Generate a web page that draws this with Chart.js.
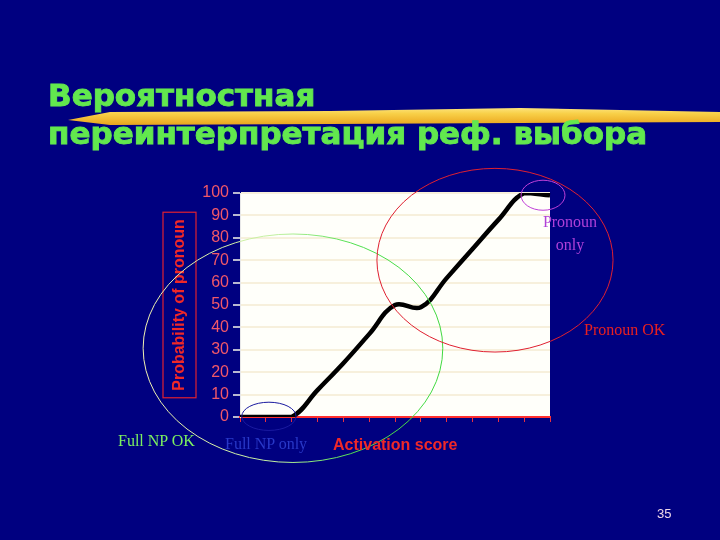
<!DOCTYPE html>
<html>
<head>
<meta charset="utf-8">
<script src="https://cdn.jsdelivr.net/npm/chart.js@4.4.1/dist/chart.umd.min.js"></script>
<style>
  html, body { margin: 0; padding: 0; background: #000080; }
  #slide { position: relative; width: 720px; height: 540px; overflow: hidden; background: #000080; }
  #chartBox { position: absolute; left: 0; top: 0; width: 720px; height: 540px; z-index: 1; }
  .txt { position: absolute; white-space: nowrap; z-index: 3; }
  .title { font-family: "DejaVu Sans", sans-serif; font-weight: bold; font-size: 31px; line-height: 31px; color: #62e84e;
    -webkit-text-stroke: 0.9px #62e84e; left: 48px; }
  .serif { font-family: "Liberation Serif", "Times New Roman", serif; font-size: 16px; line-height: 16px; }
  #stroke { position: absolute; left: 0; top: 104px; width: 720px; height: 24px; z-index: 2;
    background: linear-gradient(180deg, #fff0a0 0%, #f8d048 40%, #eeb028 75%, #e09a18 100%);
    clip-path: polygon(68px 16px, 110px 8px, 330px 7px, 520px 4px, 720px 8px, 720px 18px, 520px 19px, 330px 20px, 110px 21px); }
</style>
</head>
<body>
<div id="slide">
  <div id="stroke"></div>
  <div class="txt title" style="top:80px;">Вероятностная</div>
  <div class="txt title" style="top:118px;">переинтерпретация реф. выбора</div>

  <div id="chartBox"><canvas id="chart"></canvas></div>

  <div class="txt serif" style="left:570px; top:214px; transform:translateX(-50%); color:#b040d8;">Pronoun</div>
  <div class="txt serif" style="left:570px; top:237px; transform:translateX(-50%); color:#b040d8;">only</div>
  <div class="txt serif" style="left:584px; top:322px; color:#e82020;">Pronoun OK</div>
  <div class="txt serif" style="left:118px; top:433px; color:#7cf060;">Full NP OK</div>
  <div class="txt serif" style="left:225px; top:436px; color:#2838c8;">Full NP only</div>
  <div class="txt" style="left:333px; top:437px; font-family:'Liberation Sans', Arial, sans-serif; font-weight:bold; font-size:16px; line-height:16px; color:#f02828;">Activation score</div>
  <div class="txt" style="left:657px; top:507px; font-family:'Liberation Sans', Arial, sans-serif; font-size:13px; line-height:13px; color:#f0d8e8;">35</div>
</div>

<script>
// data
const activationSteps = ['1', '2', '3', '4', '5', '6', '7', '8', '9', '10', '11', '12', '13']
const pronounProbability = [0, 0, 0, 12, 24, 37, 50, 49, 62, 75, 88, 100, 99]
const probabilityTicks = [0, 10, 20, 30, 40, 50, 60, 70, 80, 90, 100]
const yAxisTitle = 'Probability of pronoun'

// hand-drawn circles on the slide, in data units (step index, probability)
const callouts = [
  { cx: 2.05, cy: 30.7, rx: 5.8, ry: 51, color: 'green' },
  { cx: 9.87, cy: 70, rx: 4.57, ry: 41, color: '#e02030' },
  { cx: 11.73, cy: 99, rx: 0.85, ry: 6.7, color: '#c040d8' },
  { cx: 1.12, cy: 0.3, rx: 1.05, ry: 6.3, color: '#1a1aa0' },
]

const slideDecor = {
  id: 'slideDecor',
  beforeDraw(chart) {
    const { ctx, chartArea } = chart
    ctx.save()
    ctx.fillStyle = '#fffffa'
    ctx.fillRect(chartArea.left, chartArea.top, chartArea.right - chartArea.left, chartArea.bottom - chartArea.top)
    ctx.restore()
  },
  afterDraw(chart) {
    const { ctx, chartArea } = chart
    const x = chart.scales.x
    const y = chart.scales.y

    // y axis title with its frame
    ctx.save()
    ctx.font = 'bold 16px "Liberation Sans", Arial, sans-serif'
    const w = ctx.measureText(yAxisTitle).width
    const midY = (chartArea.top + chartArea.bottom) / 2
    const tx = y.left + 15
    ctx.strokeStyle = '#e02030'
    ctx.lineWidth = 1.2
    ctx.strokeRect(tx - 17, midY - w / 2 - 7, 33, w + 14)
    ctx.translate(tx, midY)
    ctx.rotate(-Math.PI / 2)
    ctx.fillStyle = '#f02828'
    ctx.textAlign = 'center'
    ctx.textBaseline = 'middle'
    ctx.fillText(yAxisTitle, 0, 0)
    ctx.restore()

    // circles
    callouts.forEach((c) => {
      const px = x.getPixelForValue(c.cx)
      const py = y.getPixelForValue(c.cy)
      const rx = x.getPixelForValue(c.cx + c.rx) - px
      const ry = py - y.getPixelForValue(c.cy + c.ry)
      ctx.save()
      if (c.color === 'green') {
        const g = ctx.createLinearGradient(px - rx, 0, px + rx, 0)
        g.addColorStop(0, '#f0f0b0')
        g.addColorStop(0.45, '#c0f0a0')
        g.addColorStop(0.7, '#50e050')
        g.addColorStop(1, '#40d840')
        ctx.strokeStyle = g
      } else {
        ctx.strokeStyle = c.color
      }
      ctx.lineWidth = 1
      ctx.beginPath()
      ctx.ellipse(px, py, rx, ry, 0, 0, Math.PI * 2)
      ctx.stroke()
      ctx.restore()
    })
  },
}

const ctx = document.getElementById('chart').getContext('2d')
new Chart(ctx, {
  type: 'line',
  data: {
    labels: activationSteps,
    datasets: [
      {
        label: 'Probability of pronoun',
        data: pronounProbability,
        borderColor: '#000000',
        borderWidth: 4.5,
        tension: 0.4,
        pointRadius: 0,
        fill: false,
      },
    ],
  },
  options: {
    responsive: true,
    maintainAspectRatio: false,
    animation: false,
    layout: { padding: { top: 193, left: 165, right: 170, bottom: 115 } },
    plugins: {
      legend: { display: false },
      tooltip: { enabled: false },
    },
    scales: {
      x: {
        type: 'category',
        offset: false,
        afterFit: (scale) => { scale.height = 8 },
        grid: { drawOnChartArea: false, drawTicks: true, tickLength: 5, tickColor: '#e83040' },
        border: { color: '#ff3030', width: 2 },
        ticks: { autoSkip: false, maxRotation: 0, callback: () => '' },
      },
      y: {
        min: 0,
        max: 100,
        afterFit: (scale) => { scale.width = 75 },
        afterBuildTicks: (scale) => { scale.ticks = probabilityTicks.map((v) => ({ value: v })) },
        grid: { color: '#f7f0dc', lineWidth: 2, tickLength: 7, tickColor: '#b8b8d0' },
        border: { color: '#e8e8e8', width: 1 },
        ticks: {
          padding: 4,
          color: '#f25868',
          font: { family: '"Liberation Sans", Arial, sans-serif', size: 16 },
        },
      },
    },
  },
  plugins: [slideDecor],
})
</script>
</body>
</html>
